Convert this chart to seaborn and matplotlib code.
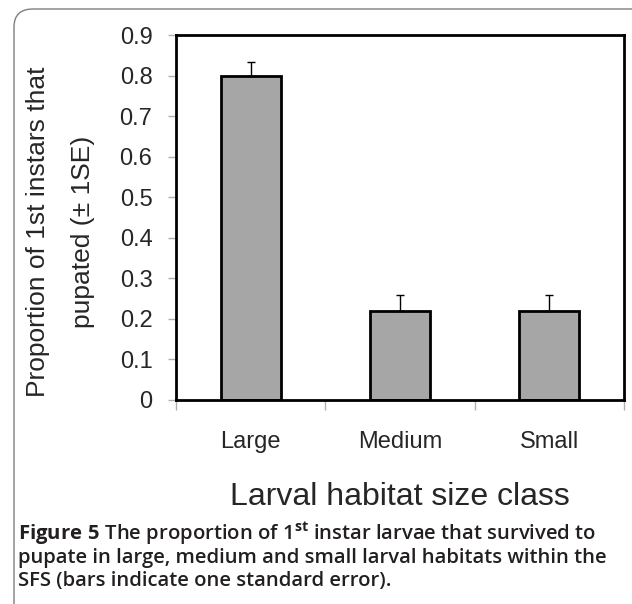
import matplotlib
matplotlib.use("Agg")
import matplotlib.pyplot as plt
import seaborn as sns
import pandas as pd
from matplotlib.patches import FancyBboxPatch

categories = ["Large", "Medium", "Small"]
proportions = [0.80, 0.22, 0.22]
std_errors = [0.033, 0.038, 0.038]
y_ticks = [0, 0.1, 0.2, 0.3, 0.4, 0.5, 0.6, 0.7, 0.8, 0.9]
y_tick_labels = ["0", "0.1", "0.2", "0.3", "0.4", "0.5", "0.6", "0.7", "0.8", "0.9"]

df = pd.DataFrame({"size": categories, "prop": proportions, "se": std_errors})

sns.set_style("white")
plt.rcParams["font.family"] = ["Liberation Sans", "DejaVu Sans"]
plt.rcParams["mathtext.fontset"] = "custom"
plt.rcParams["mathtext.bf"] = "Open Sans:bold"
plt.rcParams["mathtext.rm"] = "Open Sans"

fig = plt.figure(figsize=(6.32, 6.04), dpi=100)
ax = fig.add_axes([176 / 632, 1 - 400 / 604, 448 / 632, 365 / 604])

sns.barplot(data=df, x="size", y="prop", order=categories, color="#a6a6a6",
            saturation=1, width=0.4, edgecolor="black", linewidth=2.0,
            errorbar=None, ax=ax)
ax.errorbar(x=range(len(categories)), y=df["prop"],
            yerr=[[0] * len(categories), df["se"]], fmt="none",
            ecolor="black", elinewidth=1.0, capsize=3, capthick=1.0, zorder=3)

ax.set_xlim(-0.5, 2.5)
ax.set_ylim(0, 0.9)
ax.set_yticks(y_ticks)
ax.set_yticklabels(y_tick_labels, fontsize=17)
ax.set_xticks([-0.5, 0.5, 1.5, 2.5], minor=False)
ax.set_xticklabels([])
ax.set_xticks([0, 1, 2], minor=True)
ax.set_xticklabels(categories, minor=True, fontsize=17)
ax.tick_params(axis="x", which="major", direction="out", length=7, width=1,
               color="#b0b0b0", bottom=True)
ax.tick_params(axis="x", which="minor", length=0, pad=22)
ax.tick_params(axis="y", direction="out", length=6, width=1, color="#b0b0b0",
               left=True, pad=11)

for s in ax.spines.values():
    s.set_visible(True)
    s.set_color("black")
    s.set_linewidth(2.0)

ax.set_xlabel("Larval habitat size class", fontsize=23, va="baseline")
ax.xaxis.set_label_coords(0.5, (400 - 505) / 365)
ax.set_ylabel("Proportion of 1st instars that\npupated (\u00b1 1SE)", fontsize=19,
              linespacing=2.08, va="center")
ax.yaxis.set_label_coords((60.5 - 176) / 448, (400 - 232) / 365)

# rounded border
border = FancyBboxPatch((14 / 632, -20 / 604), (632 + 20 - 14) / 632, (604 - 9 + 20) / 604,
                        boxstyle="round,pad=0,rounding_size=0.03",
                        transform=fig.transFigure, facecolor="none",
                        edgecolor="#7f7f7f", linewidth=1.0, clip_on=False)
fig.patches.append(border)

cap_color = "#231f20"
cap_kw = dict(fontsize=14.6, color=cap_color, family=["Open Sans", "DejaVu Sans"],
              fontweight="semibold", va="baseline", ha="left")
fig.text(18 / 632, 1 - 540 / 604,
         r"$\mathbf{Figure\ 5}$ The proportion of 1$^{\mathbf{st}}$ instar larvae that survived to", **cap_kw)
fig.text(18 / 632, 1 - 563 / 604,
         "pupate in large, medium and small larval habitats within the", **cap_kw)
fig.text(18 / 632, 1 - 586 / 604,
         "SFS (bars indicate one standard error).", **cap_kw)

fig.savefig("out.png", dpi=100)
